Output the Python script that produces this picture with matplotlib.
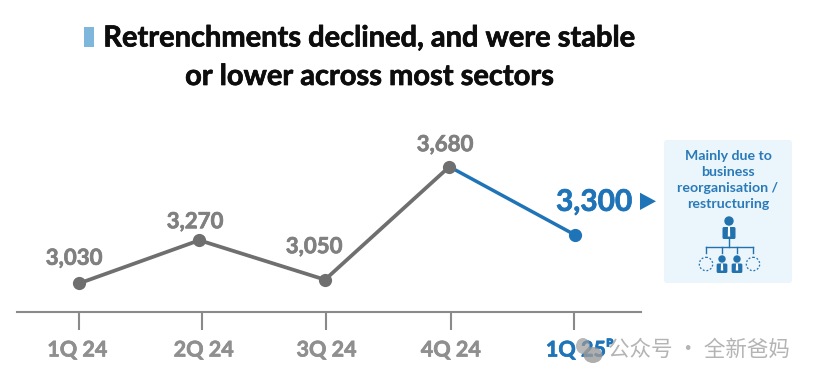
import matplotlib
matplotlib.use("Agg")
import matplotlib.pyplot as plt
import matplotlib.patheffects as pe
from matplotlib.patches import Rectangle, Circle, FancyBboxPatch, Polygon, Ellipse
from matplotlib.transforms import ScaledTranslation

plt.rcParams['font.family'] = ['Lato', 'DejaVu Sans']

quarters = ['1Q 24', '2Q 24', '3Q 24', '4Q 24', '1Q 25ᴾ']
values = [3030, 3270, 3050, 3680, 3300]
point_pos = [0, 0.971, 1.988, 2.994, 4.01]
tick_pos = [0, 0.99, 1.996, 3.005, 4.0]
value_labels = ['3,030', '3,270', '3,050', '3,680', '3,300']
title_lines = ['Retrenchments declined, and were stable', 'or lower across most sectors']
callout = ['Mainly due to', 'business', 'reorganisation /', 'restructuring']
watermark = '公众号 · 全新爸妈'

GREY = '#6f6f6f'
LABEL = '#808080'
TICKC = '#8f8f8f'
BLUE = '#1f74b8'
DARK = '#1f74b8'

W, H = 816, 383
fig = plt.figure(figsize=(W/100, H/100), dpi=100)

def heavy(w, c):
    return [pe.withStroke(linewidth=w, foreground=c)]

# chart axes
L, R, B, T = 17, 640.7, 311.7, 130
X0, DX, SL = 79.3, 123.6, 0.1794
ax = fig.add_axes([L/W, 1-B/H, (R-L)/W, (B-T)/H])
ax.set_xlim((L-X0)/DX, (R-X0)/DX)
ax.set_ylim(3030-(B-283.3)/SL, 3030+(283.3-T)/SL)
ax.patch.set_alpha(0)
for s in ['top', 'left', 'right']:
    ax.spines[s].set_visible(False)
ax.spines['bottom'].set_color('#8a8a8a')
ax.spines['bottom'].set_linewidth(1.5)
ax.set_yticks([])
ax.set_xticks(tick_pos)
ax.set_xticklabels(quarters, fontsize=15.5, fontweight='bold', color=TICKC)
ax.tick_params(axis='x', length=13, width=1.5, color='#8a8a8a', pad=7)
for t in ax.get_xticklabels():
    t.set_path_effects(heavy(0.5, TICKC))
last = ax.get_xticklabels()[-1]
last.set_color(DARK)
last.set_path_effects(heavy(0.5, DARK))
shifts_px = [-2, 2, 0.5, 0, 6]
for t, s in zip(ax.get_xticklabels(), shifts_px):
    t.set_transform(t.get_transform() + ScaledTranslation(s/100, 0, fig.dpi_scale_trans))

ax.plot(point_pos[:4], values[:4], color=GREY, lw=2.7, solid_capstyle='round', zorder=2)
ax.plot(point_pos[3:], values[3:], color=BLUE, lw=2.5, solid_capstyle='round', zorder=2)
ax.plot(point_pos[:4], values[:4], 'o', color=GREY, ms=9.5, mec='none', zorder=3)
ax.plot(point_pos[4:], values[4:], 'o', color=BLUE, ms=9.5, mec='none', zorder=3)

offs = [(-5.3, 25), (-4.3, 18.5), (-11, 33), (-4.3, 22)]
for i in range(4):
    ax.annotate(value_labels[i], (point_pos[i], values[i]), xytext=offs[i], textcoords='offset pixels',
                ha='center', va='center', fontsize=16, fontweight='bold', color=LABEL,
                path_effects=heavy(0.5, LABEL))
ax.annotate(value_labels[4], (point_pos[4], values[4]), xytext=(19, 33), textcoords='offset pixels',
            ha='center', va='center', fontsize=21.5, fontweight='bold', color=DARK,
            path_effects=heavy(0.5, DARK))

# overlay in pixel coordinates for title, call-out and watermark
ov = fig.add_axes([0, 0, 1, 1], zorder=5)
ov.set_xlim(0, W)
ov.set_ylim(H, 0)
ov.axis('off')

ov.add_patch(Rectangle((84, 27), 10, 20, color='#7fb6dc', lw=0))
for yy, line in zip([38.5, 77], title_lines):
    ov.text(369, yy, line, ha='center', va='center', fontsize=20.9, fontweight='bold', color='#0d0d0d',
            path_effects=heavy(0.5, '#0d0d0d'))

ov.add_patch(Polygon([(640, 192.7), (640, 210), (656, 201.3)], color=DARK, lw=0))

ov.add_patch(FancyBboxPatch((664, 140), 128, 143, boxstyle='round,pad=0,rounding_size=3', fc='#eaf5fc', ec='none'))
for yy, line in zip([155.5, 171.5, 188.5, 204.5], callout):
    ov.text(728, yy, line, ha='center', va='center', fontsize=10.2, fontweight='bold', color='#2a7ab8')

IC = '#2272ad'
def person(cx, cy, r, bw, btop, bbot):
    ov.add_patch(Circle((cx, cy), r, color=IC, lw=0))
    ov.add_patch(FancyBboxPatch((cx-bw/2, btop), bw, bbot-btop,
                                boxstyle='round,pad=0,rounding_size=1.5', fc=IC, ec='none'))
    ov.add_patch(Polygon([(cx-1, btop), (cx+1, btop), (cx+1.2, bbot-2.5), (cx-1.2, bbot-2.5)], color='white', lw=0))
person(729, 221, 4.7, 13, 227, 239)
person(722, 259, 3.7, 10.7, 263.5, 273)
person(737, 259, 3.7, 10.7, 263.5, 273)
ov.plot([729, 729], [239, 247], color=IC, lw=1)
ov.plot([706, 753], [247, 247], color=IC, lw=1)
for xx in [706, 722, 737, 753]:
    ov.plot([xx, xx], [247, 252.5], color=IC, lw=1)
for xx in [706, 753]:
    ov.add_patch(Circle((xx, 264), 6.7, fc='none', ec=IC, lw=0.9, ls=(0, (1.5, 1.5))))

# watermark
ov.add_patch(Ellipse((583, 346), 14, 16, color='#9a9a9a', alpha=0.7, lw=0))
ov.add_patch(Ellipse((593, 355), 19, 16, color='#9a9a9a', alpha=0.8, lw=0))
ov.text(608, 350, watermark, ha='left', va='center', fontsize=15.5, color='#b0b0b0', alpha=0.95,
        family=['Noto Sans CJK SC', 'DejaVu Sans'])

fig.savefig('out.png', dpi=100)
